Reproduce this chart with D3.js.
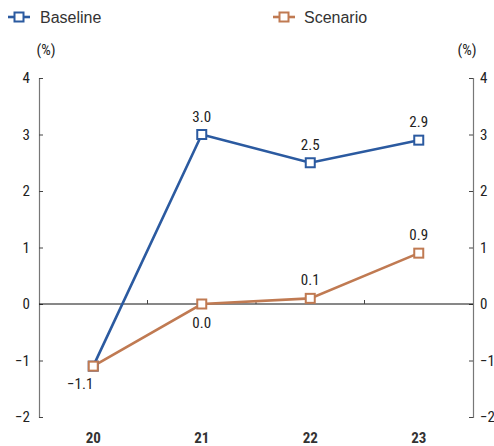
<!DOCTYPE html>
<html><head><meta charset="utf-8">
<script src="https://cdn.jsdelivr.net/npm/d3@7"></script>
<style>
body{margin:0;background:#fff;}
svg{display:block;}
.nar{font-family:"Liberation Sans Narrow","Arial Narrow","Roboto Condensed",sans-serif;}
</style></head>
<body><svg id="c" width="494" height="446"></svg>
<script>
const categories = ["20","21","22","23"];
const baseline = [-1.1, 3.0, 2.5, 2.9];
const scenario = [-1.1, 0.0, 0.1, 0.9];
const yTicks = [-2,-1,0,1,2,3,4];
const seriesNames = ["Baseline","Scenario"];
const colors = ["#2b5aa0","#c07a52"];

const svg = d3.select("#c");
const x = d3.scaleBand().domain(categories).range([39,473]);
const y = d3.scaleLinear().domain([-2,4]).range([417,78]);
const cx = d => x(d) + x.bandwidth()/2;

const gl = svg.append("g").attr("transform","translate(39,0)")
  .call(d3.axisLeft(y).tickValues(yTicks).tickSize(-4).tickPadding(9).tickFormat(d3.format("d")));
const gr = svg.append("g").attr("transform","translate(473,0)")
  .call(d3.axisRight(y).tickValues(yTicks).tickSize(-4).tickPadding(7).tickFormat(d3.format("d")));
[gl,gr].forEach(g=>{
  g.select(".domain").attr("stroke","#777").attr("stroke-width",1.2);
  g.selectAll(".tick line").attr("stroke","#444");
  g.selectAll("text").attr("class","nar").attr("font-size",15).attr("fill","#222");
});

svg.append("line").attr("x1",39).attr("x2",473).attr("y1",y(0)).attr("y2",y(0))
  .attr("stroke","#111").attr("stroke-width",1);
svg.selectAll(".xt").data(categories.slice(1)).enter().append("line")
  .attr("x1",d=>x(d)).attr("x2",d=>x(d)).attr("y1",y(0)).attr("y2",y(0)-4)
  .attr("stroke","#444");

svg.selectAll(".xl").data(categories).enter().append("text")
  .attr("class","nar").attr("x",d=>cx(d)).attr("y",443)
  .attr("text-anchor","middle").attr("font-size",15).attr("font-weight","bold").attr("fill","#333")
  .text(d=>d);

svg.append("text").attr("class","nar").attr("x",46).attr("y",55).attr("text-anchor","middle")
  .attr("font-size",15).attr("fill","#222").text("(%)");
svg.append("text").attr("class","nar").attr("x",467).attr("y",55).attr("text-anchor","middle")
  .attr("font-size",15).attr("fill","#222").text("(%)");

const line = d3.line().x((d,i)=>cx(categories[i])).y(d=>y(d));
[scenario, baseline].forEach((s,k)=>{
  const col = k===0 ? colors[1] : colors[0];
  svg.append("path").datum(s).attr("d",line).attr("fill","none").attr("stroke",col).attr("stroke-width",2.6);
});
[baseline, scenario].forEach((s,k)=>{
  svg.selectAll(".m"+k).data(s).enter().append("rect")
    .attr("x",(d,i)=>cx(categories[i])-4.5).attr("y",d=>y(d)-4.5)
    .attr("width",9).attr("height",9).attr("fill","#fff").attr("stroke",colors[k]).attr("stroke-width",2);
});

function lab(xp,yp,t){
  svg.append("text").attr("class","nar").attr("x",xp).attr("y",yp).attr("text-anchor","middle")
    .attr("font-size",15).attr("fill","#222").text(t);
}
const f = d3.format(".1f");
baseline.forEach((d,i)=>{ if(i>0) lab(cx(categories[i]), y(d)-13, f(d)); });
scenario.forEach((d,i)=>{
  if(i===0) lab(cx(categories[i])-13, y(d)+23, f(d));
  else if(d===0) lab(cx(categories[i]), y(d)+24, f(d));
  else lab(cx(categories[i]), y(d)-13, f(d));
});

const leg = [[8,seriesNames[0],colors[0],40],[273,seriesNames[1],colors[1],304]];
leg.forEach(([lx,name,col,tx])=>{
  svg.append("line").attr("x1",lx).attr("x2",lx+22).attr("y1",17).attr("y2",17).attr("stroke",col).attr("stroke-width",2.6);
  svg.append("rect").attr("x",lx+6.5).attr("y",12.5).attr("width",9).attr("height",9).attr("fill","#fff").attr("stroke",col).attr("stroke-width",2);
  svg.append("text").attr("x",tx).attr("y",23).attr("font-family","Liberation Sans, Arial, sans-serif")
    .attr("font-size",16).attr("fill","#333").text(name);
});
</script></body></html>
